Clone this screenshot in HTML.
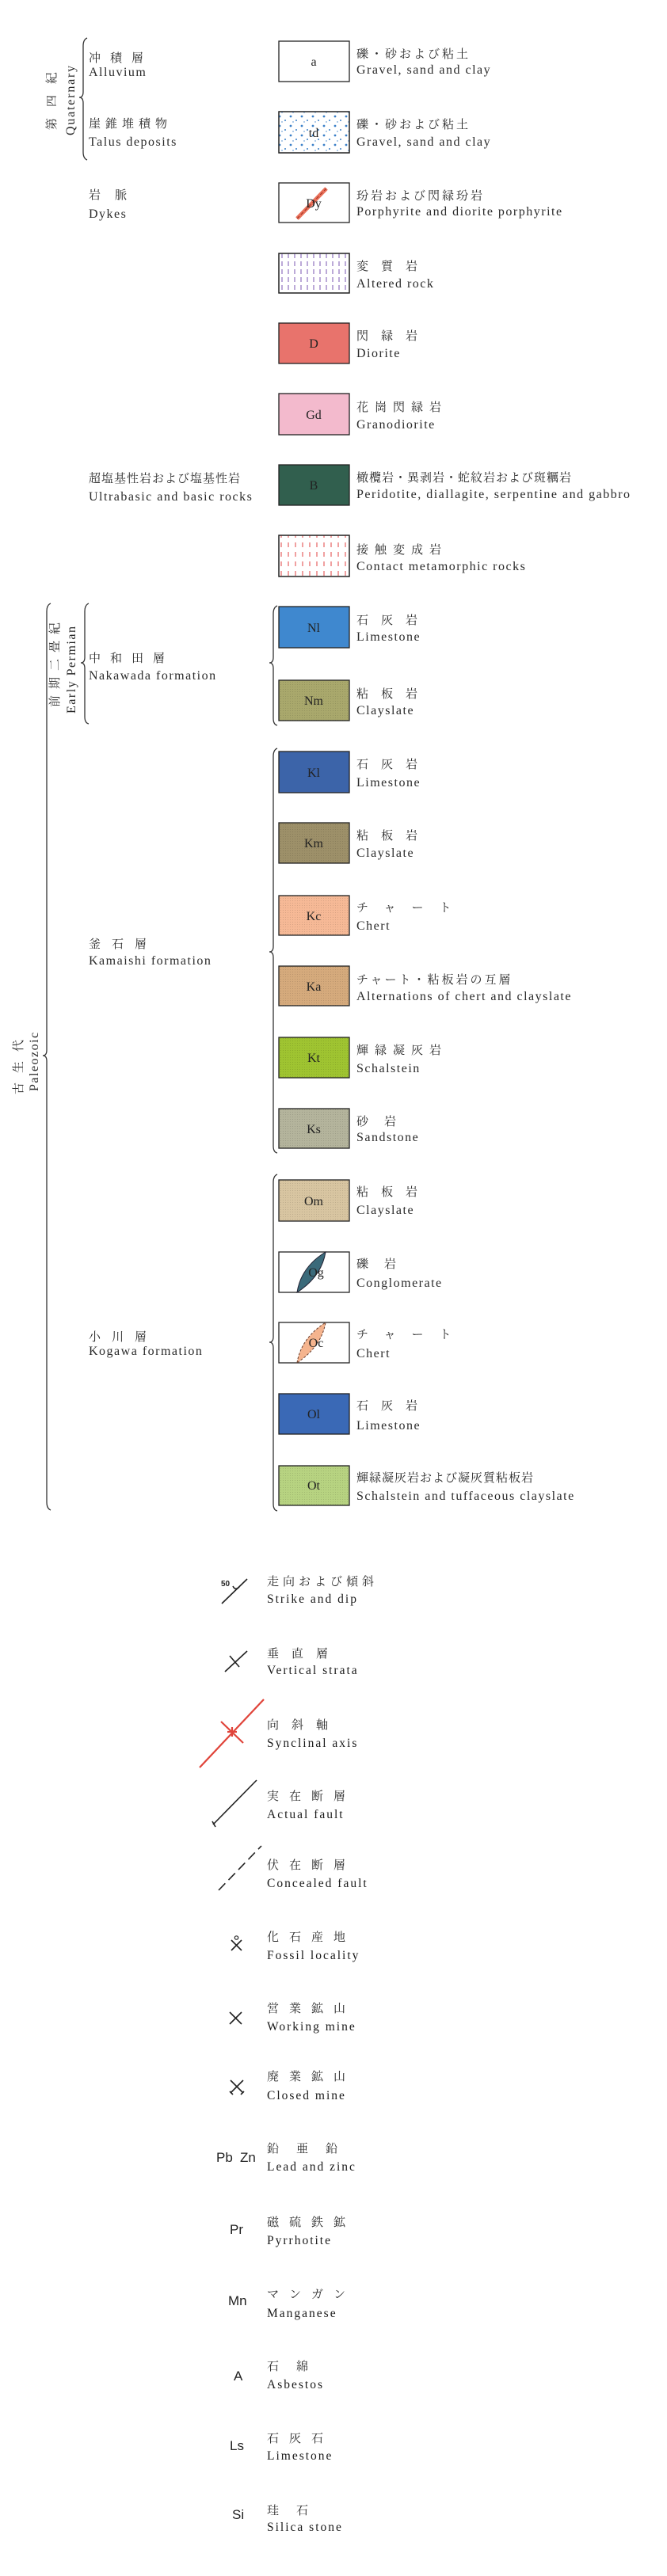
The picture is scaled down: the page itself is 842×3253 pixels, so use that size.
<!DOCTYPE html>
<html><head><meta charset="utf-8"><style>
html,body{margin:0;padding:0;background:#fff;}
svg{display:block;}
.en{font-family:"Liberation Serif",serif;font-size:16px;letter-spacing:1.5px;fill:#2a2a2a;}
.jp{font-family:"Liberation Serif","Noto Serif CJK JP",serif;font-size:15px;letter-spacing:3px;fill:#2a2a2a;}
.lb{font-family:"Liberation Serif",serif;font-size:16px;fill:#222;text-anchor:middle;}
.be{font-family:"Liberation Serif",serif;font-size:15.5px;letter-spacing:2px;fill:#1a1a1a;}
.sy{font-family:"Liberation Sans",sans-serif;font-size:17px;fill:#222;}
</style></head><body>
<svg width="842" height="3253" viewBox="0 0 842 3253" xmlns="http://www.w3.org/2000/svg">
<defs>
<pattern id="dots" width="14" height="12" patternUnits="userSpaceOnUse">
<circle cx="3" cy="3" r="1.4" fill="#3a7fc8"/><circle cx="10" cy="8" r="1" fill="#3a7fc8"/><circle cx="6" cy="10" r="0.7" fill="#3a7fc8"/>
</pattern>
<pattern id="alt" width="8" height="10" patternUnits="userSpaceOnUse">
<line x1="4" y1="0" x2="4" y2="6" stroke="#7a55b0" stroke-width="1"/>
</pattern>
<pattern id="cont" width="9" height="12" patternUnits="userSpaceOnUse">
<line x1="4" y1="1" x2="4" y2="7" stroke="#e04040" stroke-width="1"/>
</pattern>
<pattern id="grid" width="3" height="3" patternUnits="userSpaceOnUse">
<rect width="3" height="3" fill="none"/><rect width="1" height="1" fill="#000" opacity="0.12"/>
</pattern>
</defs>

<path d="M110,48 Q105,50 105,58 L105,116 Q105,123 100,123 Q105,123 105,130 L105,192 Q105,200 110,202" fill="none" stroke="#333" stroke-width="1.3"/>
<text class="jp" transform="translate(70,164) rotate(-90)" style="letter-spacing:14px">第四紀</text>
<text class="en" transform="translate(94,171) rotate(-90)" style="letter-spacing:1.8px">Quaternary</text>

<path d="M64,762 Q59,764 59,772 L59,1326 Q59,1333 54,1333 Q59,1333 59,1340 L59,1897 Q59,1905 64,1907" fill="none" stroke="#333" stroke-width="1.3"/>
<text class="jp" transform="translate(28,1382) rotate(-90)" style="letter-spacing:12px">古生代</text>
<text class="en" transform="translate(48,1378) rotate(-90)">Paleozoic</text>

<path d="M112,762 Q107,764 107,772 L107,830 Q107,837 102,837 Q107,837 107,844 L107,905 Q107,913 112,914" fill="none" stroke="#333" stroke-width="1.3"/>
<text class="jp" transform="translate(74,893) rotate(-90)" style="letter-spacing:8px">前期二畳紀</text>
<text class="en" transform="translate(95,901) rotate(-90)">Early Permian</text>

<path d="M350,765 Q345,767 345,775 L345,830 Q345,837 340,837 Q345,837 345,844 L345,907 Q345,915 350,916" fill="none" stroke="#333" stroke-width="1.3"/>
<path d="M350,945 Q345,947 345,955 L345,1195 Q345,1202 340,1202 Q345,1202 345,1209 L345,1447 Q345,1455 350,1456" fill="none" stroke="#333" stroke-width="1.3"/>
<path d="M350,1483 Q345,1485 345,1493 L345,1688 Q345,1695 340,1695 Q345,1695 345,1702 L345,1899 Q345,1907 350,1908" fill="none" stroke="#333" stroke-width="1.3"/>

<text class="jp" x="112" y="78" style="letter-spacing:12px">冲積層</text>
<text class="en" x="112" y="96">Alluvium</text>
<text class="jp" x="112" y="161" style="letter-spacing:6px">崖錐堆積物</text>
<text class="en" x="112" y="184">Talus deposits</text>
<text class="jp" x="112" y="251" style="letter-spacing:18px">岩脈</text>
<text class="en" x="112" y="275">Dykes</text>
<text class="jp" x="112" y="609" style="letter-spacing:1px">超塩基性岩および塩基性岩</text>
<text class="en" x="112" y="632">Ultrabasic and basic rocks</text>
<text class="jp" x="112" y="836" style="letter-spacing:12px">中和田層</text>
<text class="en" x="112" y="858">Nakawada formation</text>
<text class="jp" x="112" y="1197" style="letter-spacing:14px">釜石層</text>
<text class="en" x="112" y="1218">Kamaishi formation</text>
<text class="jp" x="112" y="1693" style="letter-spacing:14px">小川層</text>
<text class="en" x="112" y="1711">Kogawa formation</text>

<g stroke="#222" stroke-width="1.3">
<rect x="352" y="52" width="89" height="51" fill="#fff"/>
<rect x="352" y="141" width="89" height="52" fill="#fff"/>
<rect x="352" y="141" width="89" height="52" fill="url(#dots)"/>
<rect x="352" y="231" width="89" height="50" fill="#fff"/>
<rect x="352" y="320" width="89" height="50" fill="#fff"/>
<rect x="352" y="320" width="89" height="50" fill="url(#alt)"/>
<rect x="352" y="408" width="89" height="51" fill="#e8736c"/>
<rect x="352" y="497" width="89" height="52" fill="#f3bacd"/>
<rect x="352" y="587" width="89" height="51" fill="#315f4e"/>
<rect x="352" y="676" width="89" height="52" fill="#fff"/>
<rect x="352" y="676" width="89" height="52" fill="url(#cont)"/>
<rect x="352" y="766" width="89" height="52" fill="#3f88cf"/>
<rect x="352" y="859" width="89" height="51" fill="#a9a86c"/>
<rect x="352" y="949" width="89" height="52" fill="#3c64a9"/>
<rect x="352" y="1039" width="89" height="51" fill="#9d9069"/>
<rect x="352" y="1131" width="89" height="50" fill="#f6b996"/>
<rect x="352" y="1220" width="89" height="50" fill="#d5aa7c"/>
<rect x="352" y="1310" width="89" height="51" fill="#9fc431"/>
<rect x="352" y="1400" width="89" height="50" fill="#b4b49c"/>
<rect x="352" y="1490" width="89" height="52" fill="#d8c5a1"/>
<rect x="352" y="1581" width="89" height="51" fill="#fff"/>
<rect x="352" y="1670" width="89" height="51" fill="#fff"/>
<rect x="352" y="1760" width="89" height="51" fill="#3a69b6"/>
<rect x="352" y="1851" width="89" height="50" fill="#b7d381"/>
</g>
<g fill="url(#grid)">
<rect x="352" y="859" width="89" height="51"/><rect x="352" y="1039" width="89" height="51"/>
<rect x="352" y="1131" width="89" height="50"/><rect x="352" y="1220" width="89" height="50"/>
<rect x="352" y="1310" width="89" height="51"/><rect x="352" y="1400" width="89" height="50"/>
<rect x="352" y="1490" width="89" height="52"/><rect x="352" y="1851" width="89" height="50"/>
</g>
<line x1="375" y1="276" x2="412" y2="238" stroke="#e8705a" stroke-width="5"/>
<line x1="375" y1="276" x2="412" y2="238" stroke="#a03020" stroke-width="1" stroke-dasharray="4 3"/>
<path d="M375,1632 Q380,1600 411,1581 Q406,1612 375,1632 Z" fill="#3b6a7a" stroke="#223" stroke-width="1"/>
<path d="M375,1721 Q380,1690 411,1670 Q406,1700 375,1721 Z" fill="#f5b48e" stroke="#6a4030" stroke-width="1" stroke-dasharray="3 2"/>

<g class="lb">
<text x="396" y="83">a</text>
<text x="396" y="173">td</text>
<text x="396" y="262">Dy</text>
<text x="396" y="439">D</text>
<text x="396" y="529">Gd</text>
<text x="396" y="618">B</text>
<text x="396" y="798">Nl</text>
<text x="396" y="890">Nm</text>
<text x="396" y="981">Kl</text>
<text x="396" y="1070">Km</text>
<text x="396" y="1162">Kc</text>
<text x="396" y="1251">Ka</text>
<text x="396" y="1341">Kt</text>
<text x="396" y="1431">Ks</text>
<text x="396" y="1522">Om</text>
<text x="399" y="1612">Og</text>
<text x="399" y="1701">Oc</text>
<text x="396" y="1791">Ol</text>
<text x="396" y="1881">Ot</text>
</g>

<g>
<text class="jp" x="450" y="73">礫・砂および粘土</text><text class="en" x="450" y="93">Gravel, sand and clay</text>
<text class="jp" x="450" y="162">礫・砂および粘土</text><text class="en" x="450" y="184">Gravel, sand and clay</text>
<text class="jp" x="450" y="252">玢岩および閃緑玢岩</text><text class="en" x="450" y="272">Porphyrite and diorite porphyrite</text>
<text class="jp" x="450" y="341" style="letter-spacing:16px">変質岩</text><text class="en" x="450" y="363">Altered rock</text>
<text class="jp" x="450" y="429" style="letter-spacing:16px">閃緑岩</text><text class="en" x="450" y="451">Diorite</text>
<text class="jp" x="450" y="519" style="letter-spacing:8px">花崗閃緑岩</text><text class="en" x="450" y="541">Granodiorite</text>
<text class="jp" x="450" y="608" style="letter-spacing:1px">橄欖岩・異剥岩・蛇紋岩および斑糲岩</text><text class="en" x="450" y="629">Peridotite, diallagite, serpentine and gabbro</text>
<text class="jp" x="450" y="699" style="letter-spacing:8px">接触変成岩</text><text class="en" x="450" y="720">Contact metamorphic rocks</text>
<text class="jp" x="450" y="788" style="letter-spacing:16px">石灰岩</text><text class="en" x="450" y="809">Limestone</text>
<text class="jp" x="450" y="881" style="letter-spacing:16px">粘板岩</text><text class="en" x="450" y="902">Clayslate</text>
<text class="jp" x="450" y="970" style="letter-spacing:16px">石灰岩</text><text class="en" x="450" y="993">Limestone</text>
<text class="jp" x="450" y="1060" style="letter-spacing:16px">粘板岩</text><text class="en" x="450" y="1082">Clayslate</text>
<text class="jp" x="450" y="1151" style="letter-spacing:20px">チャート</text><text class="en" x="450" y="1174">Chert</text>
<text class="jp" x="450" y="1242" style="letter-spacing:3px">チャート・粘板岩の互層</text><text class="en" x="450" y="1263">Alternations of chert and clayslate</text>
<text class="jp" x="450" y="1331" style="letter-spacing:8px">輝緑凝灰岩</text><text class="en" x="450" y="1354">Schalstein</text>
<text class="jp" x="450" y="1421" style="letter-spacing:20px">砂岩</text><text class="en" x="450" y="1441">Sandstone</text>
<text class="jp" x="450" y="1510" style="letter-spacing:16px">粘板岩</text><text class="en" x="450" y="1533">Clayslate</text>
<text class="jp" x="450" y="1601" style="letter-spacing:20px">礫岩</text><text class="en" x="450" y="1625">Conglomerate</text>
<text class="jp" x="450" y="1690" style="letter-spacing:20px">チャート</text><text class="en" x="450" y="1714">Chert</text>
<text class="jp" x="450" y="1780" style="letter-spacing:16px">石灰岩</text><text class="en" x="450" y="1805">Limestone</text>
<text class="jp" x="450" y="1871" style="letter-spacing:1px">輝緑凝灰岩および凝灰質粘板岩</text><text class="en" x="450" y="1894">Schalstein and tuffaceous clayslate</text>
</g>

<g stroke="#222" stroke-width="1.6" fill="none">
<line x1="280" y1="2025" x2="312" y2="1994"/>
<path d="M294,2003 Q297,2009 302,2004"/>
<line x1="284" y1="2111" x2="312" y2="2085"/>
<line x1="290" y1="2091" x2="302" y2="2105"/>
<line x1="269" y1="2304" x2="324" y2="2248"/>
<line x1="268" y1="2300" x2="272" y2="2307"/>
<line x1="276" y1="2387" x2="330" y2="2331" stroke-dasharray="12 6"/>
<line x1="292" y1="2450" x2="305" y2="2463"/><line x1="305" y1="2450" x2="292" y2="2463"/>
<circle cx="298.5" cy="2447" r="2.2" stroke-width="1.2"/>
<line x1="290" y1="2541" x2="305" y2="2556"/><line x1="305" y1="2541" x2="290" y2="2556"/>
<line x1="291" y1="2627" x2="307" y2="2643"/><line x1="307" y1="2627" x2="291" y2="2643"/>
<line x1="290" y1="2641" x2="294" y2="2645"/><line x1="308" y1="2641" x2="304" y2="2645"/>
</g>
<text x="279" y="2003" style="font-family:'Liberation Sans',sans-serif;font-size:10px;font-weight:bold;fill:#222">50</text>
<g stroke="#e0443a" stroke-width="2.2" fill="none">
<line x1="252" y1="2232" x2="333" y2="2146"/>
<line x1="279" y1="2174" x2="307" y2="2201"/>
<line x1="287" y1="2187" x2="299" y2="2187"/><line x1="293" y1="2181" x2="293" y2="2193"/>
</g>
<g class="sy">
<text x="273" y="2730">Pb</text><text x="303" y="2730">Zn</text>
<text x="290" y="2821">Pr</text>
<text x="288" y="2911">Mn</text>
<text x="295" y="3006">A</text>
<text x="290" y="3094">Ls</text>
<text x="293" y="3181">Si</text>
</g>
<g>
<text class="jp" x="337" y="2002" style="letter-spacing:5px">走向および傾斜</text><text class="be" x="337" y="2024">Strike and dip</text>
<text class="jp" x="337" y="2093" style="letter-spacing:16px">垂直層</text><text class="be" x="337" y="2114">Vertical strata</text>
<text class="jp" x="337" y="2183" style="letter-spacing:16px">向斜軸</text><text class="be" x="337" y="2206">Synclinal axis</text>
<text class="jp" x="337" y="2273" style="letter-spacing:13px">実在断層</text><text class="be" x="337" y="2296">Actual fault</text>
<text class="jp" x="337" y="2360" style="letter-spacing:13px">伏在断層</text><text class="be" x="337" y="2383">Concealed fault</text>
<text class="jp" x="337" y="2451" style="letter-spacing:13px">化石産地</text><text class="be" x="337" y="2474">Fossil locality</text>
<text class="jp" x="337" y="2541" style="letter-spacing:13px">営業鉱山</text><text class="be" x="337" y="2564">Working mine</text>
<text class="jp" x="337" y="2627" style="letter-spacing:13px">廃業鉱山</text><text class="be" x="337" y="2651">Closed mine</text>
<text class="jp" x="337" y="2718" style="letter-spacing:22px">鉛亜鉛</text><text class="be" x="337" y="2741">Lead and zinc</text>
<text class="jp" x="337" y="2811" style="letter-spacing:13px">磁硫鉄鉱</text><text class="be" x="337" y="2834">Pyrrhotite</text>
<text class="jp" x="337" y="2902" style="letter-spacing:13px">マンガン</text><text class="be" x="337" y="2926">Manganese</text>
<text class="jp" x="337" y="2993" style="letter-spacing:22px">石綿</text><text class="be" x="337" y="3016">Asbestos</text>
<text class="jp" x="337" y="3084" style="letter-spacing:13px">石灰石</text><text class="be" x="337" y="3106">Limestone</text>
<text class="jp" x="337" y="3175" style="letter-spacing:22px">珪石</text><text class="be" x="337" y="3196">Silica stone</text>
</g>
</svg>
</body></html>
